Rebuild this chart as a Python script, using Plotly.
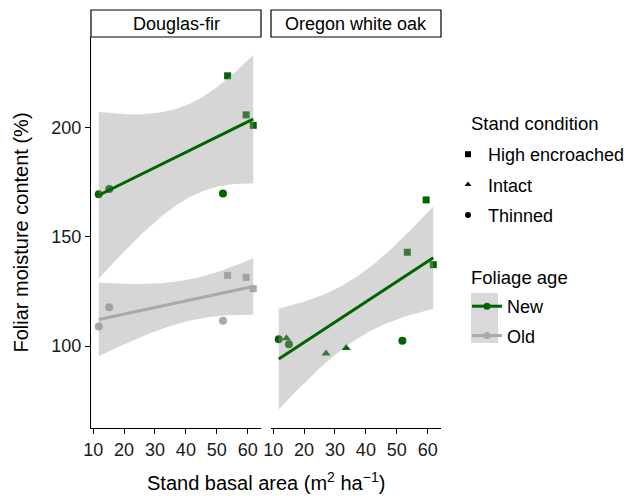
import numpy as np
import plotly.graph_objects as go

# ---------------- data ----------------
panels = ["Douglas-fir", "Oregon white oak"]

# Douglas-fir
df_x_thinned = [11.8, 15.2, 52.0]
df_x_high = [53.5, 59.5, 61.8]
df_new_thinned = [169.6, 172.0, 169.9]
df_new_high = [223.9, 206.0, 201.2]
df_old_thinned = [108.9, 117.8, 111.6]
df_old_high = [132.4, 131.5, 126.3]

# Oregon white oak (new foliage only)
ow_x_thinned = [11.8, 15.1, 51.8]
ow_x_intact = [14.3, 27.1, 33.6]
ow_x_high = [53.4, 59.5, 61.8]
ow_new_thinned = [103.1, 100.8, 102.4]
ow_new_intact = [103.5, 96.6, 99.1]
ow_new_high = [143.0, 167.0, 137.3]

conditions = ["High encroached", "Intact", "Thinned"]
ages = ["New", "Old"]
x_ticks = [10, 20, 30, 40, 50, 60]
y_ticks = [100, 150, 200]

# ---------------- style ----------------
GREEN = "#006400"
GREY = "#A9A9A9"
RIBBON = "rgba(153,153,153,0.4)"
FONT = "Liberation Sans, Arial, Helvetica, sans-serif"
FS = 18
FS_TITLE = 20
SYM = {"High encroached": "square", "Intact": "triangle-up", "Thinned": "circle"}
MSIZE = {"square": 7, "triangle-up": 8, "circle": 8}
T975 = {4: 2.776445, 7: 2.364624}  # Student t 97.5% quantiles


def lm_band(x, y, n=100):
    x = np.asarray(x, float)
    y = np.asarray(y, float)
    b1, b0 = np.polyfit(x, y, 1)
    g = np.linspace(x.min(), x.max(), n)
    fit = b0 + b1 * g
    resid = y - (b0 + b1 * x)
    dof = len(x) - 2
    s = np.sqrt(np.sum(resid ** 2) / dof)
    sxx = np.sum((x - x.mean()) ** 2)
    se = s * np.sqrt(1.0 / len(x) + (g - x.mean()) ** 2 / sxx)
    t = T975[dof]
    return g, fit, fit - t * se, fit + t * se


fig = go.Figure()

groups = [
    ("x", "y", GREEN, [("Thinned", df_x_thinned, df_new_thinned),
                       ("High encroached", df_x_high, df_new_high)]),
    ("x", "y", GREY, [("Thinned", df_x_thinned, df_old_thinned),
                      ("High encroached", df_x_high, df_old_high)]),
    ("x2", "y2", GREEN, [("Thinned", ow_x_thinned, ow_new_thinned),
                         ("Intact", ow_x_intact, ow_new_intact),
                         ("High encroached", ow_x_high, ow_new_high)]),
]

# points (drawn first, so the ribbons veil them as in the reference)
for xa, ya, col, sets in groups:
    for cond, xs, ys in sets:
        sym = SYM[cond]
        fig.add_trace(go.Scatter(
            x=xs, y=ys, mode="markers", xaxis=xa, yaxis=ya,
            marker=dict(symbol=sym, size=MSIZE[sym], color=col, line=dict(width=0)),
            showlegend=False, hoverinfo="skip"))

fits = []
for xa, ya, col, sets in groups:
    xs_all = sum([list(s[1]) for s in sets], [])
    ys_all = sum([list(s[2]) for s in sets], [])
    fits.append((xa, ya, col) + lm_band(xs_all, ys_all))

for xa, ya, col, g, fit, lo, hi in fits:
    fig.add_trace(go.Scatter(
        x=np.concatenate([g, g[::-1]]), y=np.concatenate([hi, lo[::-1]]),
        mode="lines", fill="toself", fillcolor=RIBBON, line=dict(width=0),
        xaxis=xa, yaxis=ya, showlegend=False, hoverinfo="skip"))
for xa, ya, col, g, fit, lo, hi in fits:
    fig.add_trace(go.Scatter(
        x=g, y=fit, mode="lines", line=dict(color=col, width=3),
        xaxis=xa, yaxis=ya, showlegend=False, hoverinfo="skip"))

# legend entries
for i, cond in enumerate(conditions):
    sym = SYM[cond]
    fig.add_trace(go.Scatter(
        x=[None], y=[None], mode="markers", name=cond, legend="legend",
        legendgroup="c%d" % i,
        marker=dict(symbol=sym, size=6, color="black")))
for i, (age, col) in enumerate(zip(ages, [GREEN, GREY])):
    fig.add_trace(go.Scatter(
        x=[None], y=[None], mode="lines+markers", name=age, legend="legend2",
        legendgroup="a%d" % i,
        line=dict(color=col, width=3), marker=dict(symbol="circle", size=7, color=col)))

# ---------------- layout ----------------
# the page body has an 8px margin, so the figure is placed 8px in from the
# top-left corner of the window; positions below are given in window pixels
OFF = 8
W, H = 635 - OFF, 496 - OFF
L, T = 91 - OFF, 37 - OFF
R = W - (441 - OFF)
B = H - (428 - OFF)
pw = W - L - R  # 350
ph = H - T - B  # 391
d1 = [0, 170 / pw]
d2 = [180 / pw, 1]


def px_x(p):
    return (p - OFF - L) / pw


def px_y(p):
    return (H - B - (p - OFF)) / ph


axis_common = dict(
    range=[9.3, 64.3], tickvals=x_ticks, ticks="outside", ticklen=5,
    tickwidth=1, tickcolor="black", showline=True, linecolor="black",
    linewidth=1.2, showgrid=False, zeroline=False,
    tickfont=dict(family=FONT, size=FS, color="#1a1a1a"))

fig.update_layout(
    width=W, height=H, margin=dict(l=L, r=R, t=T, b=B, autoexpand=False),
    paper_bgcolor="white", plot_bgcolor="white",
    font=dict(family=FONT, size=FS, color="black"),
    xaxis=dict(domain=d1, anchor="y", **axis_common),
    xaxis2=dict(domain=d2, anchor="y2", **axis_common),
    yaxis=dict(domain=[0, 1], range=[62.4, 241.7], tickvals=y_ticks,
               ticks="outside", ticklen=5, tickwidth=1, tickcolor="black",
               showline=True, linecolor="black", linewidth=1.2,
               showgrid=False, zeroline=False,
               tickfont=dict(family=FONT, size=FS, color="#1a1a1a"),
               title=dict(text="Foliar moisture content (%)",
                          font=dict(family=FONT, size=FS_TITLE), standoff=17)),
    yaxis2=dict(domain=[0, 1], anchor="x2", matches="y", range=[62.4, 241.7],
                showticklabels=False, ticks="", showline=False,
                showgrid=False, zeroline=False),
    legend=dict(x=px_x(448), xanchor="left", y=px_y(136),
                yanchor="top", bgcolor="rgba(0,0,0,0)", borderwidth=0,
                font=dict(family=FONT, size=FS), tracegroupgap=4),
    legend2=dict(x=px_x(467), xanchor="left", y=px_y(288),
                 yanchor="top", bgcolor="rgba(0,0,0,0)", borderwidth=0,
                 font=dict(family=FONT, size=FS), tracegroupgap=3),
)

# legend titles
for txt, yy in [("Stand condition", 123), ("Foliage age", 277)]:
    fig.add_annotation(text=txt, xref="paper", yref="paper", x=px_x(469), y=px_y(yy),
                       xanchor="left", yanchor="middle", showarrow=False,
                       font=dict(family=FONT, size=18.5))

# x-axis title centred across both panels
fig.add_annotation(text="Stand basal area (m<sup>2</sup> ha<sup>\u22121</sup>)",
                   xref="paper", yref="paper", x=0.5, y=px_y(481),
                   showarrow=False, xanchor="center", yanchor="middle",
                   font=dict(family=FONT, size=FS_TITLE))

# facet strips
strip_top = px_y(10)
for dom, name in zip([d1, d2], panels):
    fig.add_shape(type="rect", xref="paper", yref="paper",
                  x0=dom[0], x1=dom[1], y0=1, y1=strip_top,
                  line=dict(color="black", width=1.2), fillcolor="white")
    fig.add_annotation(text=name, xref="paper", yref="paper",
                       x=(dom[0] + dom[1]) / 2, y=(1 + strip_top) / 2,
                       showarrow=False, xanchor="center", yanchor="middle",
                       font=dict(family=FONT, size=FS))

# grey key background behind the foliage-age legend keys
fig.add_shape(type="rect", xref="paper", yref="paper",
              x0=px_x(471), x1=px_x(498), y0=px_y(343), y1=px_y(293),
              line=dict(width=0), fillcolor="#d9d9d9", layer="below")

fig.write_html("out.html")
